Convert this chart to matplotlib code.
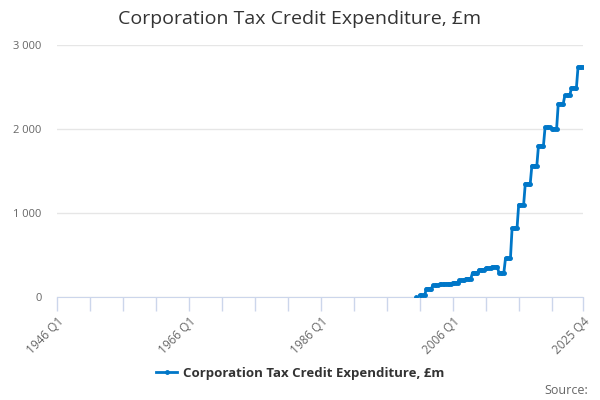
import numpy as np
import matplotlib
matplotlib.use("Agg")
import matplotlib.pyplot as plt

plt.rcParams['font.family'] = ['Open Sans', 'DejaVu Sans']

# Datos: valores anuales (2001-2025) repetidos en cada trimestre
start_year = 1946
end_year = 2025
early_point_quarter = "2000 Q3"
early_point_value = 5
years = list(range(2001, 2026))
annual_values = [20, 100, 140, 150, 158, 170, 200, 220, 290, 325, 345, 360, 290,
                 460, 820, 1100, 1350, 1565, 1800, 2020, 2005, 2300, 2400, 2490, 2740]
tick_labels = ["1946 Q1", "1966 Q1", "1986 Q1", "2006 Q1", "2025 Q4"]
series_name = "Corporation Tax Credit Expenditure, £m"

# Construir eje trimestral
quarters = [f"{y} Q{q}" for y in range(start_year, end_year + 1) for q in range(1, 5)]
idx = {q: i for i, q in enumerate(quarters)}
values = np.full(len(quarters), np.nan)
values[idx[early_point_quarter]] = early_point_value
start = idx[f"{years[0]} Q1"]
values[start:start + 4 * len(years)] = np.repeat(annual_values, 4)
x = np.arange(len(quarters))

color = '#0077c8'
axis_col = '#ccd6eb'

fig = plt.figure(figsize=(6, 4), dpi=100)
ax = fig.add_axes([57 / 600, 103 / 400, 526 / 600, 252 / 400])

ax.plot(x, values, color=color, lw=2, marker='o', ms=2.5, zorder=3)

ax.set_xlim(0, len(quarters) - 1)
ax.set_ylim(0, 3000)

ax.set_yticks([0, 1000, 2000, 3000])
ax.set_yticklabels(["0", "1 000", "2 000", "3 000"])
ax.grid(axis='y', color='#e6e6e6', lw=1)
ax.set_axisbelow(True)

# Marcas cada 5 años, etiquetas cada 20 años
minor = list(range(0, len(quarters), 20)) + [len(quarters) - 1]
ax.set_xticks(minor)
ax.set_xticklabels([q if q in tick_labels else "" for q in [quarters[i] for i in minor]],
                   rotation=45, ha='right', rotation_mode='anchor')

for s in ['top', 'right', 'left']:
    ax.spines[s].set_visible(False)
ax.spines['bottom'].set_color(axis_col)
ax.tick_params(axis='x', colors=axis_col, length=10, width=1, labelcolor='#666666',
               labelsize=8.5, pad=3)
ax.tick_params(axis='y', length=0, labelcolor='#666666', labelsize=8, pad=11)

fig.text(0.5, 1 - 19 / 400, series_name, ha='center', va='center',
         fontsize=14, color='#333333')

leg = fig.legend([plt.Line2D([], [], color=color, lw=2, marker='o', ms=2.5)],
                 [series_name], loc='center', bbox_to_anchor=(0.5, 1 - 373 / 400),
                 frameon=False, handlelength=1.6, handletextpad=0.4,
                 prop={'weight': 'bold', 'size': 9.5})
for t in leg.get_texts():
    t.set_color('#333333')

fig.text(588 / 600, 1 - 390 / 400, "Source:", ha='right', va='center',
         fontsize=9, color='#666666')

fig.savefig("out.png", dpi=100)
